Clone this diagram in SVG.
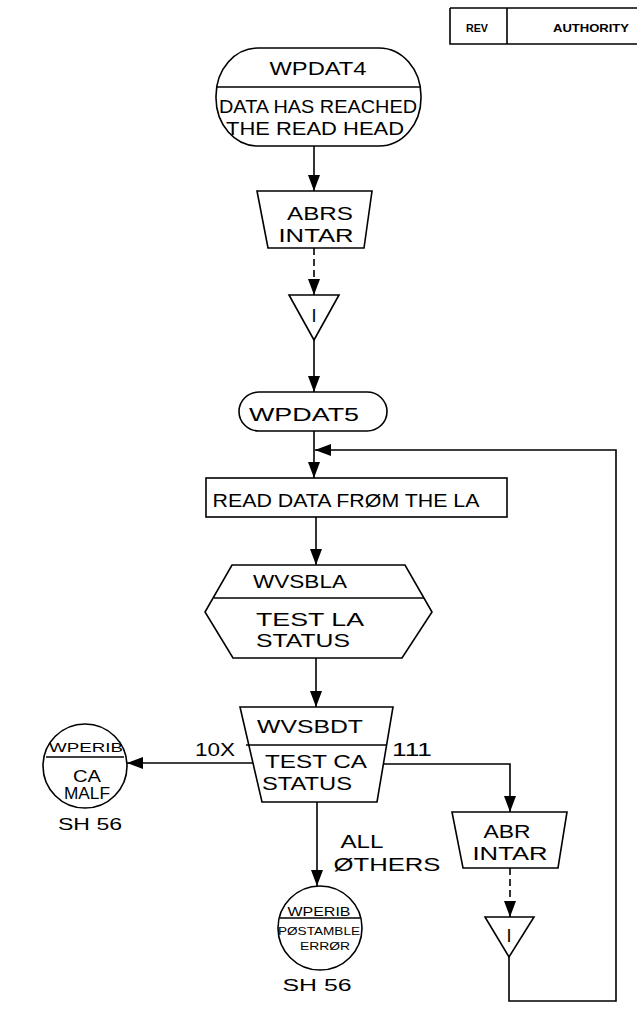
<svg xmlns="http://www.w3.org/2000/svg" width="637" height="1015" viewBox="0 0 637 1015">
<defs>
<style>
.s{fill:#fff;stroke:#000;stroke-width:1.6}
.l{fill:none;stroke:#000;stroke-width:1.6}
.d{fill:none;stroke:#000;stroke-width:1.6;stroke-dasharray:7 4}
text{font-family:"Liberation Sans",Arial,sans-serif;fill:#000;text-anchor:middle}
.t{font-size:18px}
.m{font-size:13px}
.n{font-size:11px}
.k{font-size:16px}
.h{font-size:11px;font-weight:bold}
</style>
<marker id="a" markerUnits="userSpaceOnUse" markerWidth="16" markerHeight="12" refX="16" refY="6" orient="auto" viewBox="0 0 16 12">
<path d="M0,0 L16,6 L0,12 z" fill="#000"/>
</marker>
</defs>
<rect width="637" height="1015" fill="#fff"/>

<g id="header">
<path class="l" d="M450,8 H637 M450,8 V44 H637 M507,8 V44"/>
<text class="h" x="477" y="32" textLength="22" lengthAdjust="spacingAndGlyphs">REV</text>
<text class="h" x="591" y="32" textLength="76" lengthAdjust="spacingAndGlyphs">AUTHORITY</text>
</g>

<g id="connectors">
<path class="l" d="M314,146 V191" marker-end="url(#a)"/>
<path class="d" d="M314,248 V295" marker-end="url(#a)"/>
<path class="l" d="M314,340 V392" marker-end="url(#a)"/>
<path class="l" d="M314,431 V478" marker-end="url(#a)"/>
<path class="l" d="M316,517 V565" marker-end="url(#a)"/>
<path class="l" d="M316,658 V707" marker-end="url(#a)"/>
<path class="l" d="M253,763 H127" marker-end="url(#a)"/>
<path class="l" d="M383,764 H510 V812" marker-end="url(#a)"/>
<path class="l" d="M317,802 V886" marker-end="url(#a)"/>
<path class="d" d="M510,868 V917" marker-end="url(#a)"/>
<path class="l" d="M509,957 V1001 H616 V450 H315" marker-end="url(#a)"/>
<text class="t" x="215" y="756" textLength="40" lengthAdjust="spacingAndGlyphs">10X</text>
<text class="t" x="412" y="756" textLength="40" lengthAdjust="spacingAndGlyphs">111</text>
<text class="t" x="362" y="848" textLength="43" lengthAdjust="spacingAndGlyphs">ALL</text>
<text class="t" x="387" y="871" textLength="107" lengthAdjust="spacingAndGlyphs">ØTHERS</text>
</g>

<g id="wpdat4">
<rect class="s" x="216" y="48" width="205" height="98" rx="42" ry="48"/>
<path class="l" d="M217,87 H420"/>
<text class="t" x="318" y="75" textLength="97" lengthAdjust="spacingAndGlyphs">WPDAT4</text>
<text class="t" x="318" y="113" textLength="198" lengthAdjust="spacingAndGlyphs">DATA HAS REACHED</text>
<text class="t" x="315" y="135" textLength="178" lengthAdjust="spacingAndGlyphs">THE READ HEAD</text>
</g>

<g id="abrs">
<path class="s" d="M257,191 H372 L364,248 H268 Z"/>
<text class="t" x="320" y="220" textLength="66" lengthAdjust="spacingAndGlyphs">ABRS</text>
<text class="t" x="316" y="242" textLength="75" lengthAdjust="spacingAndGlyphs">INTAR</text>
</g>

<g id="off1">
<path class="s" d="M289,295 H339 L314,340 Z"/>
<text class="t" x="314" y="322">I</text>
</g>

<g id="wpdat5">
<rect class="s" x="239" y="392" width="148" height="39" rx="20" ry="19.5"/>
<text class="t" x="304" y="421" textLength="110" lengthAdjust="spacingAndGlyphs">WPDAT5</text>
</g>

<g id="readdata">
<rect class="s" x="206" y="478" width="301" height="39"/>
<text class="t" x="346" y="507" textLength="267" lengthAdjust="spacingAndGlyphs">READ DATA FRØM THE LA</text>
</g>

<g id="wvsbla">
<path class="s" d="M232,565 H405 L432,612 L402,658 H233 L205,612 Z"/>
<path class="l" d="M214,598 H424"/>
<text class="t" x="300" y="588" textLength="94" lengthAdjust="spacingAndGlyphs">WVSBLA</text>
<text class="t" x="310" y="626" textLength="108" lengthAdjust="spacingAndGlyphs">TEST LA</text>
<text class="t" x="303" y="647" textLength="94" lengthAdjust="spacingAndGlyphs">STATUS</text>
</g>

<g id="wvsbdt">
<path class="s" d="M240,707 H393 L377,802 H262 Z"/>
<path class="l" d="M246,745 H387"/>
<text class="t" x="310" y="733" textLength="106" lengthAdjust="spacingAndGlyphs">WVSBDT</text>
<text class="t" x="316" y="768" textLength="102" lengthAdjust="spacingAndGlyphs">TEST CA</text>
<text class="t" x="307" y="790" textLength="90" lengthAdjust="spacingAndGlyphs">STATUS</text>
</g>

<g id="wperib1">
<circle class="s" cx="85" cy="766" r="42"/>
<path class="l" d="M46,757 H124"/>
<text class="m" x="86" y="752" textLength="74" lengthAdjust="spacingAndGlyphs">WPERIB</text>
<text class="k" x="87" y="782" textLength="28" lengthAdjust="spacingAndGlyphs">CA</text>
<text class="k" x="87" y="799" textLength="46" lengthAdjust="spacingAndGlyphs">MALF</text>
<text class="k" x="90" y="830" textLength="64" lengthAdjust="spacingAndGlyphs">SH 56</text>
</g>

<g id="abr">
<path class="s" d="M452,812 H567 L558,868 H463 Z"/>
<text class="t" x="507" y="838" textLength="47" lengthAdjust="spacingAndGlyphs">ABR</text>
<text class="t" x="510" y="860" textLength="75" lengthAdjust="spacingAndGlyphs">INTAR</text>
</g>

<g id="off2">
<path class="s" d="M485,917 H534 L509,957 Z"/>
<text class="t" x="509" y="942">I</text>
</g>

<g id="wperib2">
<circle class="s" cx="320" cy="928" r="42"/>
<path class="l" d="M280,918 H360"/>
<text class="m" x="319" y="916" textLength="63" lengthAdjust="spacingAndGlyphs">WPERIB</text>
<text class="n" x="319" y="935" textLength="82" lengthAdjust="spacingAndGlyphs">PØSTAMBLE</text>
<text class="n" x="325" y="950" textLength="50" lengthAdjust="spacingAndGlyphs">ERRØR</text>
<text class="k" x="317" y="991" textLength="69" lengthAdjust="spacingAndGlyphs">SH 56</text>
</g>
</svg>
